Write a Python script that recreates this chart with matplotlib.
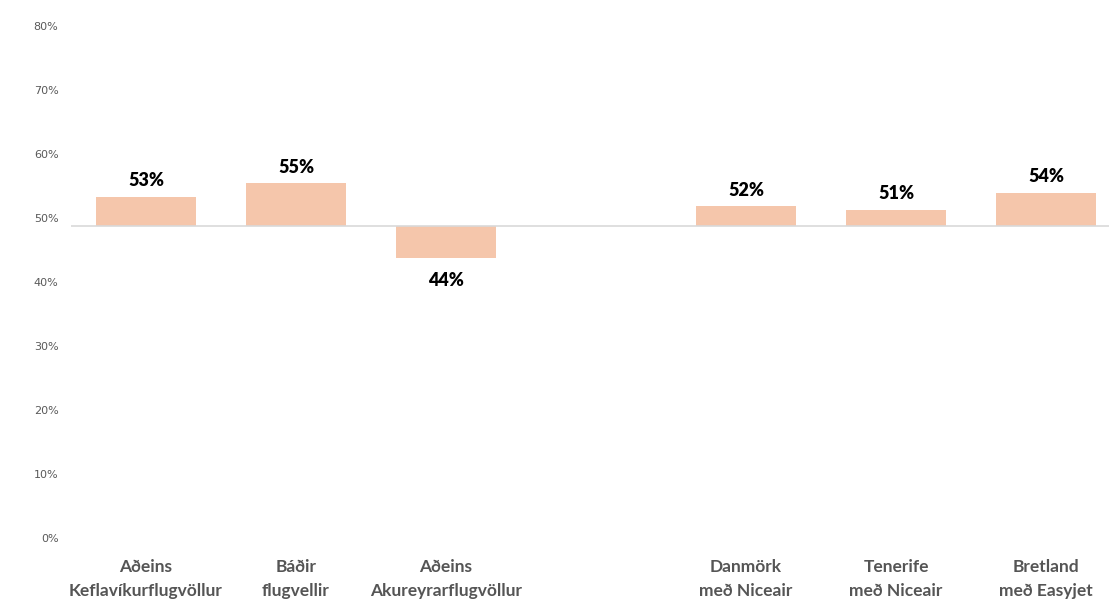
import matplotlib.pyplot as plt
from matplotlib.ticker import PercentFormatter

# gögn
categories = ["Aðeins\nKeflavíkurflugvöllur", "Báðir\nflugvellir", "Aðeins\nAkureyrarflugvöllur", "",
              "Danmörk\nmeð Niceair", "Tenerife\nmeð Niceair", "Bretland\nmeð Easyjet"]
values = [0.533, 0.554, 0.438, None, 0.518, 0.513, 0.539]
baseline = 0.4875

fig = plt.figure(figsize=(11.09, 6.09), dpi=100)
ax = fig.add_axes([71 / 1109, 71 / 609, 1050 / 1109, 512 / 609])

bar_color = "#F5C6AB"
lbl_font = dict(fontsize=13, fontweight="heavy", family=["Lato", "DejaVu Sans"], color="black")
for i, v in enumerate(values):
    if v is None:
        continue
    ax.bar(i, v - baseline, bottom=baseline, width=0.667, color=bar_color, zorder=2)
    if v >= baseline:
        ax.text(i, v + 0.012, f"{round(v * 100):.0f}%", ha="center", va="bottom", **lbl_font)
    else:
        ax.text(i, v - 0.022, f"{round(v * 100):.0f}%", ha="center", va="top", **lbl_font)

ax.axhline(baseline, color="#D9D9D9", lw=1.2, zorder=3)

ax.set_xlim(-0.5, 6.5)
ax.set_ylim(0, 0.8)
ax.set_yticks([i / 10 for i in range(9)])
ax.yaxis.set_major_formatter(PercentFormatter(1.0, decimals=0))
ax.tick_params(axis="y", length=0, pad=9, labelsize=8, labelcolor="#595959")
ax.set_xticks(range(len(categories)))
ax.set_xticklabels(categories, fontsize=12.5, fontweight="bold", color="#555555",
                   family=["Lato", "DejaVu Sans"], linespacing=1.6)
ax.tick_params(axis="x", length=0, pad=15)
for s in ax.spines.values():
    s.set_visible(False)

fig.savefig("out.png", dpi=100)
